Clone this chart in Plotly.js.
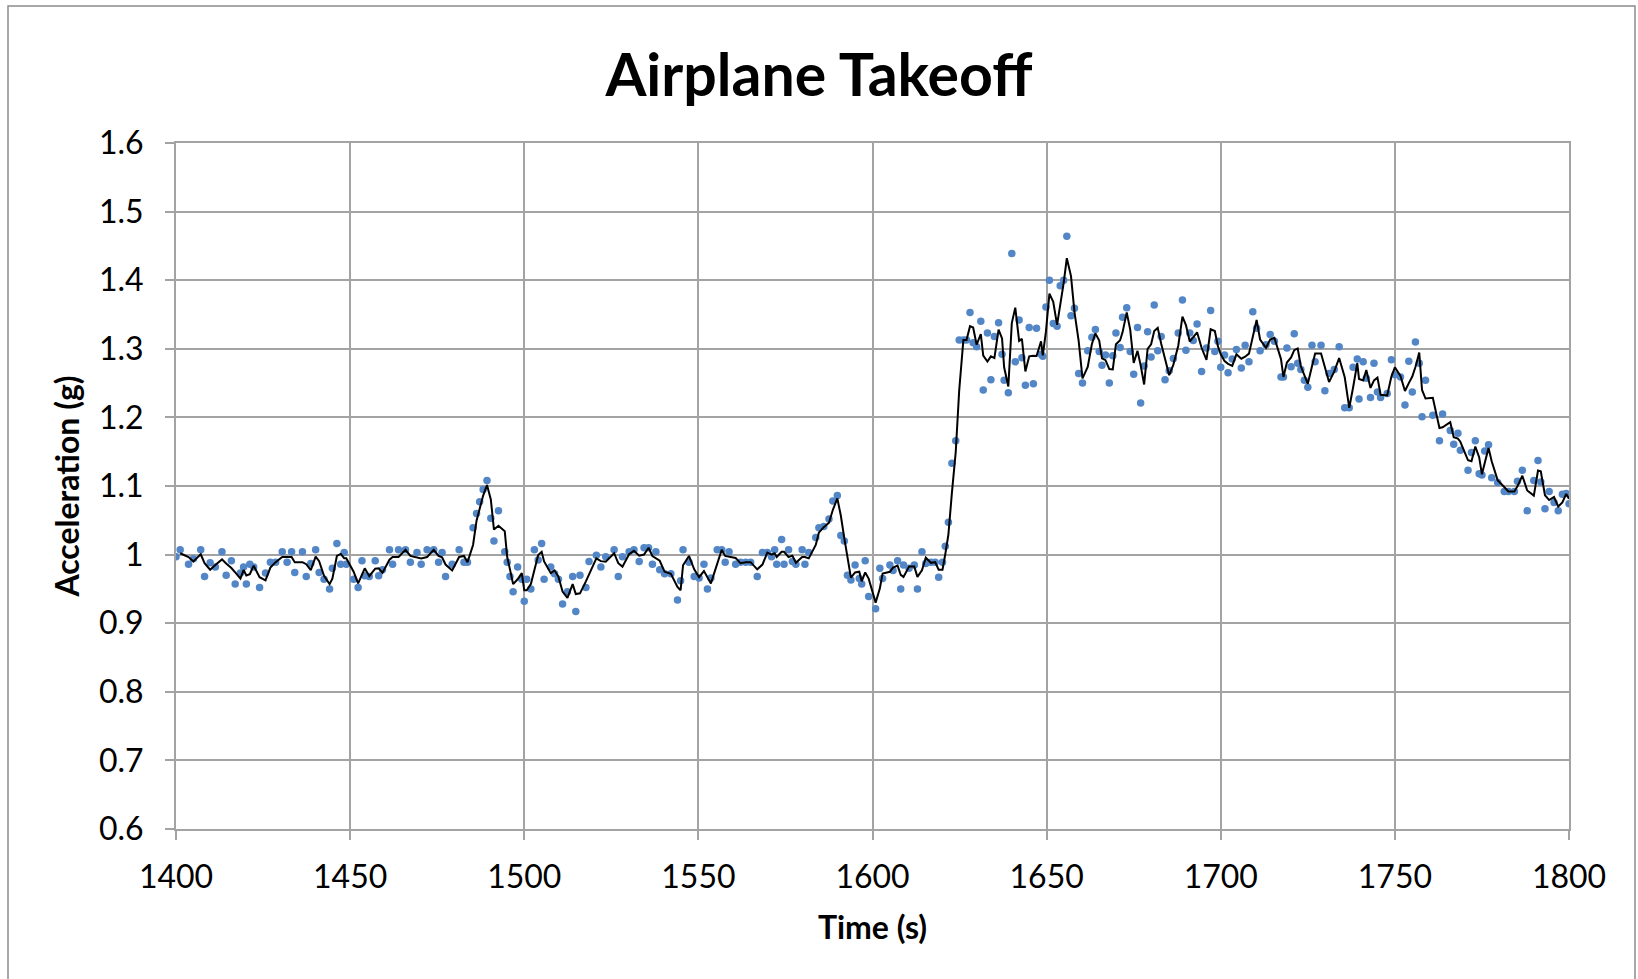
<!DOCTYPE html>
<html>
<head>
<meta charset="utf-8">
<script src="https://cdn.plot.ly/plotly-3.0.1.min.js"></script>
<style>
  html, body { margin: 0; padding: 0; background: #fff; }
  #chart { width: 1638px; height: 979px; }
</style>
</head>
<body>
<div id="chart"></div>
<script>
// Sample times (s)
const time = [
1400.0,1401.2,1403.6,1405.0,1407.1,1408.2,1409.8,1411.3,1413.2,1414.4,1415.9,1417.0,1418.5,1419.4,1420.2,1421.2,1422.3,1424.0,1425.7,1427.1,
1428.6,1430.5,1431.9,1433.2,1434.1,1436.3,1437.4,1438.7,1440.1,1441.1,1442.5,1444.1,1444.9,1446.2,1447.3,1448.3,1448.9,1451.0,1452.3,1453.4,
1454.2,1455.5,1457.2,1458.2,1459.3,1461.3,1462.2,1463.9,1465.9,1467.3,1469.2,1470.4,1472.1,1474.0,1475.4,1476.4,1477.4,1479.3,1481.3,1482.7,
1483.7,1485.3,1486.3,1487.2,1488.2,1489.3,1490.4,1491.3,1492.6,1494.4,1495.1,1495.9,1496.8,1498.1,1499.3,1500.0,1500.7,1501.9,1502.9,1504.0,
1505.0,1505.7,1507.6,1508.7,1509.8,1511.0,1512.4,1513.9,1514.8,1516.0,1517.7,1518.6,1520.7,1522.0,1523.4,1525.8,1527.0,1528.2,1530.1,1531.5,
1533.0,1534.4,1535.7,1536.8,1537.8,1538.9,1540.3,1542.1,1544.0,1544.9,1545.6,1547.3,1548.8,1550.2,1551.6,1552.6,1553.6,1555.4,1556.7,1557.7,
1558.8,1560.7,1562.1,1563.6,1565.0,1566.9,1568.4,1569.8,1571.0,1571.9,1572.5,1573.9,1574.6,1575.9,1577.0,1578.0,1579.8,1580.6,1581.7,1583.7,
1584.6,1586.0,1587.5,1588.6,1589.9,1590.9,1591.9,1592.8,1593.8,1595.0,1596.2,1596.9,1597.9,1598.9,1600.9,1602.1,1602.9,1605.0,1605.9,1607.2,
1608.1,1608.9,1610.5,1612.0,1612.9,1614.2,1615.3,1616.8,1618.0,1619.0,1620.1,1620.9,1621.8,1622.8,1623.9,1624.9,1626.1,1627.0,1628.0,1628.9,
1629.9,1631.1,1631.8,1633.0,1634.0,1635.0,1636.2,1637.2,1637.8,1639.0,1640.0,1641.0,1642.1,1642.9,1643.9,1645.0,1646.2,1647.1,1648.4,1648.9,
1649.8,1650.8,1651.9,1653.0,1653.9,1654.9,1655.8,1657.0,1658.0,1659.2,1660.3,1661.8,1663.0,1664.0,1665.1,1665.9,1666.9,1668.0,1669.0,1669.9,
1671.1,1671.8,1673.0,1674.0,1675.0,1676.1,1677.0,1678.0,1679.0,1680.0,1680.9,1681.9,1682.9,1684.0,1685.2,1686.4,1687.8,1689.0,1690.0,1691.1,
1692.1,1693.2,1694.5,1695.9,1697.1,1698.3,1699.2,1700.0,1701.1,1702.1,1703.3,1704.5,1705.9,1707.0,1708.1,1709.2,1710.3,1711.3,1713.0,1714.2,
1715.4,1717.3,1718.0,1719.0,1720.2,1721.1,1722.1,1723.0,1724.0,1725.0,1726.2,1727.1,1728.8,1729.9,1731.1,1732.6,1734.0,1735.6,1736.9,1738.0,
1739.2,1739.7,1740.9,1741.8,1743.0,1744.0,1745.0,1745.9,1747.8,1749.0,1750.0,1751.6,1752.9,1754.0,1755.0,1755.9,1757.0,1757.8,1758.8,1760.9,
1762.8,1763.7,1765.9,1766.9,1768.1,1768.8,1771.0,1772.0,1773.1,1774.2,1775.0,1775.8,1776.9,1777.8,1779.5,1781.4,1782.6,1784.3,1785.2,1786.6,
1788.0,1789.9,1791.1,1791.9,1793.1,1794.3,1795.7,1796.9,1798.1,1799.2,1800.0
];

const accel = [
0.997,1.007,0.986,0.994,1.007,0.968,0.988,0.982,1.004,0.970,0.991,0.957,0.973,0.982,0.957,0.986,0.982,0.952,0.973,0.989,
0.989,1.004,0.989,1.004,0.974,1.004,0.968,0.987,1.007,0.974,0.964,0.950,0.980,1.016,0.986,1.003,0.986,0.964,0.952,0.991,
0.969,0.968,0.991,0.969,0.978,1.007,0.986,1.007,1.007,0.989,1.003,0.986,1.007,1.007,0.989,1.003,0.968,0.986,1.007,0.989,
0.989,1.039,1.060,1.077,1.095,1.108,1.053,1.020,1.064,1.004,0.989,0.968,0.946,0.982,0.964,0.932,0.964,0.950,1.007,0.992,
1.016,0.964,0.982,0.972,0.964,0.928,0.946,0.968,0.917,0.970,0.952,0.990,0.999,0.982,0.997,1.007,0.968,0.997,1.004,1.007,
0.990,1.010,1.010,0.986,1.004,0.978,0.972,0.972,0.934,0.962,1.007,0.989,0.968,0.966,0.986,0.950,0.966,1.007,1.007,0.989,
1.004,0.986,0.989,0.989,0.989,0.968,1.003,1.003,0.997,1.007,0.986,1.022,0.986,1.007,0.990,0.986,1.007,0.986,1.003,1.025,
1.039,1.041,1.052,1.078,1.086,1.028,1.020,0.970,0.963,0.985,0.965,0.957,0.991,0.939,0.921,0.980,0.965,0.985,0.977,0.991,
0.950,0.985,0.980,0.985,0.950,1.004,0.987,0.989,0.989,0.967,0.989,1.012,1.047,1.133,1.166,1.313,1.313,1.313,1.353,1.309,
1.303,1.340,1.240,1.323,1.255,1.318,1.338,1.292,1.254,1.236,1.439,1.281,1.342,1.287,1.247,1.331,1.249,1.330,1.292,1.289,
1.361,1.400,1.337,1.333,1.392,1.400,1.464,1.348,1.359,1.264,1.250,1.297,1.317,1.328,1.296,1.276,1.291,1.250,1.290,1.323,
1.302,1.346,1.360,1.296,1.263,1.331,1.221,1.275,1.325,1.288,1.364,1.297,1.318,1.255,1.268,1.286,1.323,1.371,1.298,1.323,
1.312,1.336,1.267,1.301,1.356,1.296,1.311,1.273,1.291,1.265,1.285,1.299,1.272,1.305,1.281,1.354,1.330,1.297,1.306,1.321,
1.311,1.259,1.259,1.301,1.274,1.322,1.279,1.270,1.254,1.244,1.305,1.281,1.305,1.239,1.264,1.270,1.303,1.214,1.214,1.273,
1.285,1.227,1.281,1.257,1.229,1.279,1.237,1.229,1.235,1.284,1.262,1.259,1.218,1.282,1.237,1.310,1.279,1.201,1.254,1.203,
1.166,1.205,1.181,1.161,1.177,1.152,1.123,1.149,1.166,1.118,1.116,1.151,1.160,1.112,1.105,1.092,1.092,1.092,1.107,1.123,
1.064,1.108,1.137,1.106,1.067,1.092,1.076,1.064,1.088,1.089,1.074
];

// Tick labels
const xTicks = [1400, 1450, 1500, 1550, 1600, 1650, 1700, 1750, 1800];
const yTicks = [0.6, 0.7, 0.8, 0.9, 1.0, 1.1, 1.2, 1.3, 1.4, 1.5, 1.6];
const yTickText = ['0.6','0.7','0.8','0.9','1','1.1','1.2','1.3','1.4','1.5','1.6'];

// The black curve is the chart's 2-period moving-average trendline of the measured points
const maTime = [], maAccel = [];
for (let i = 1; i < accel.length; i++) {
  maTime.push(time[i]);
  maAccel.push((accel[i - 1] + accel[i]) / 2);
}

const FONT = 'Lato, "Open Sans", "DejaVu Sans", sans-serif';
const GRID = '#a3a3a3';

const traces = [
  {
    x: time, y: accel, type: 'scatter', mode: 'markers',
    marker: { size: 7.5, color: '#5286c6' },
    hoverinfo: 'skip', showlegend: false
  },
  {
    x: maTime, y: maAccel, type: 'scatter', mode: 'lines',
    line: { color: '#000000', width: 2 },
    hoverinfo: 'skip', showlegend: false
  }
];

const L = 176, R = 1569, T = 143, B = 829;
const layout = {
  width: 1638, height: 979,
  margin: { l: L, r: 1638 - R, t: T, b: 979 - B, pad: 0 },
  paper_bgcolor: '#ffffff', plot_bgcolor: '#ffffff',
  showlegend: false,
  font: { family: FONT, color: '#000000' },
  title: {
    text: 'Airplane Takeoff',
    font: { family: FONT, size: 59, weight: 700, color: '#000000' },
    x: 0.5, xref: 'container', xanchor: 'center',
    y: 1 - 75 / 979, yref: 'container', yanchor: 'middle'
  },
  xaxis: {
    range: [1400, 1800], tickvals: xTicks,
    showgrid: true, gridcolor: GRID, gridwidth: 2,
    showline: true, mirror: true, linecolor: GRID, linewidth: 2,
    zeroline: false,
    ticks: 'outside', ticklen: 9, tickwidth: 2, tickcolor: GRID,
    ticklabelstandoff: 10,
    tickfont: { family: FONT, size: 32, color: '#000000' },
    title: { text: 'Time (s)', standoff: 22,
             font: { family: FONT, size: 32, weight: 700, color: '#000000' } },
    fixedrange: true
  },
  yaxis: {
    range: [0.6, 1.6], tickvals: yTicks, ticktext: yTickText,
    showgrid: true, gridcolor: GRID, gridwidth: 2,
    showline: true, mirror: true, linecolor: GRID, linewidth: 2,
    zeroline: false,
    ticks: 'outside', ticklen: 9, tickwidth: 2, tickcolor: GRID,
    ticklabelstandoff: 15,
    tickfont: { family: FONT, size: 32, color: '#000000' },
    title: { text: 'Acceleration (g)', standoff: 10,
             font: { family: FONT, size: 32, weight: 700, color: '#000000' } },
    fixedrange: true
  },
  shapes: [{
    type: 'rect', xref: 'paper', yref: 'paper', layer: 'below',
    x0: (8 - L) / (R - L), x1: (1635 - L) / (R - L),
    y0: (B - 990) / (B - T), y1: (B - 6) / (B - T),
    line: { color: '#8c8c8c', width: 1.5 }, fillcolor: 'rgba(0,0,0,0)'
  }]
};

Plotly.newPlot('chart', traces, layout, { displayModeBar: false, staticPlot: true });
</script>
</body>
</html>
